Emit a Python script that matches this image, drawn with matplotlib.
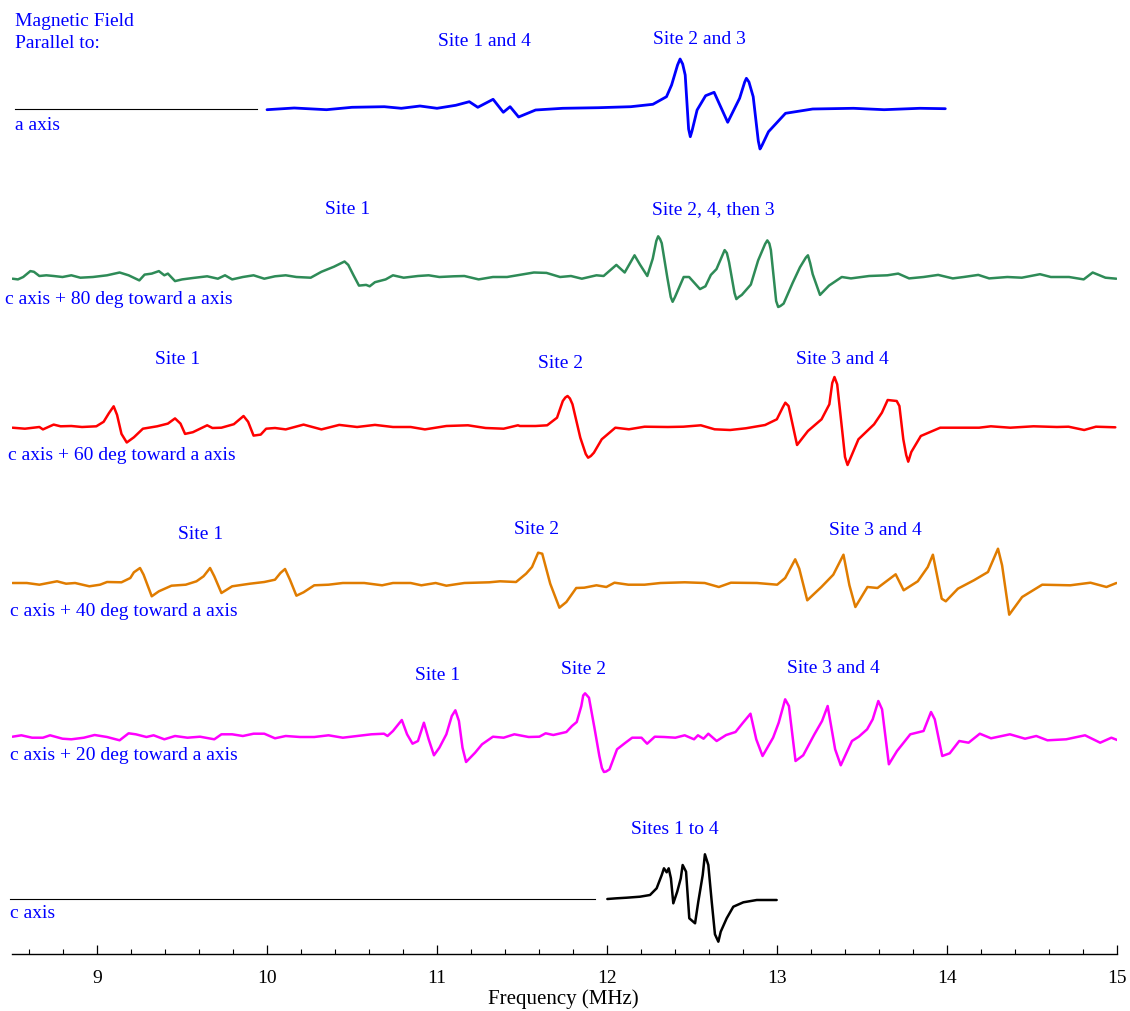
import numpy as np
import matplotlib.pyplot as plt
from matplotlib.ticker import MultipleLocator

# traces: frequency (MHz) and signal (arb. units, up = positive)
blue_f = [10.00, 10.16, 10.35, 10.50, 10.69, 10.79, 10.90, 11.00, 11.11, 11.19,
          11.24, 11.33, 11.39, 11.43, 11.48, 11.58, 11.74, 11.95, 12.14, 12.27,
          12.35, 12.38, 12.415, 12.43, 12.445, 12.46, 12.48, 12.49, 12.50, 12.53,
          12.58, 12.63, 12.71, 12.78, 12.81, 12.82, 12.835, 12.86, 12.89, 12.90,
          12.91, 12.95, 13.05, 13.21, 13.45, 13.63, 13.84, 13.99]
blue_a = [-0.7, 1, -0.7, 1.7, 2.3, 0.7, 3, 0.7, 3.7, 7.3,
          1.7, 9.7, -3.3, 2.3, -8, -1, 0.7, 1.3, 2.3, 4.7,
          12.3, 24, 44, 50, 45, 34, -20, -27.7, -22, -1,
          13.3, 16.7, -13.3, 10.7, 27, 30.7, 27, 12.3, -32, -40,
          -37, -22.7, -4.3, 0, 0.7, -0.7, 0.7, 0.3]

green_f = [8.503, 8.535, 8.566, 8.608, 8.629, 8.661, 8.702, 8.745, 8.797, 8.849,
           8.902, 8.976, 9.059, 9.133, 9.186, 9.249, 9.280, 9.322, 9.364, 9.396,
           9.417, 9.459, 9.501, 9.564, 9.648, 9.711, 9.753, 9.795, 9.858, 9.921,
           9.984, 10.047, 10.110, 10.173, 10.257, 10.320, 10.394, 10.456, 10.478, 10.509,
           10.541, 10.583, 10.604, 10.635, 10.698, 10.741, 10.804, 10.888, 10.951, 11.014,
           11.098, 11.161, 11.245, 11.329, 11.412, 11.496, 11.570, 11.644,
           11.724, 11.788, 11.852, 11.938, 11.980, 12.055, 12.104, 12.162, 12.194, 12.237,
           12.269, 12.290, 12.301, 12.312, 12.322, 12.355, 12.375, 12.386, 12.400, 12.451,
           12.483, 12.547, 12.579, 12.611, 12.644, 12.680, 12.692, 12.705, 12.718, 12.750,
           12.761, 12.775, 12.793, 12.846, 12.889, 12.930, 12.943, 12.955, 12.964, 12.995,
           13.007, 13.020, 13.039, 13.092, 13.135, 13.170, 13.182, 13.195, 13.210, 13.253,
           13.306, 13.381, 13.435, 13.542, 13.649, 13.713, 13.777, 13.862, 13.948, 14.034,
           14.098, 14.184, 14.248, 14.355, 14.440, 14.547, 14.611, 14.718, 14.804, 14.857,
           14.932, 14.996]
green_a = [-1.7, -2.4, 0, 5.9, 5.2, 1, 1.7, 1, 0, 1.7,
           -0.7, 0, 1.7, 4.5, 1.7, -3.4, 2.4, 3.4, 5.9, 1.7,
           3.4, -4.1, -2.4, -1, 0.7, -1.7, 1.7, -2.4, 0, 1.7,
           -1.7, 0.7, 1.7, 0, -0.7, 5.2, 10.3, 15.5, 12.1, 1.7,
           -8.6, -7.9, -9.3, -5.2, -2.4, 1.7, -0.7, 1, 1.7, 0,
           0.7, 1, -2.4, 0, 0, 2.4, 4.5, 4.1,
           0, 1, -1.7, 1.7, 1, 12.1, 4.5, 21.7, 12.4, 1,
           18.3, 36, 40.7, 38, 33.8, -0.7, -20, -24.8, -20, 0,
           0, -12.1, -9.3, 2.1, 7.9, 22, 26.9, 24, 14.8, -16,
           -22.1, -20, -17.9, -7.6, 16.6, 33, 36.6, 33.5, 26.9, -24,
           -30, -29, -26.6, -5.9, 9.7, 19.5, 21.7, 14, 2.8, -17.9,
           -8.6, 0, -1.4, 1, 1.7, 3.4, -1.4, 0, 2.1, -1.4,
           0, 2.1, -1.4, 0, -0.7, 2.8, 0, 0, -2.4, 4.5,
           -0.7, -1.7]

red_f = [8.503, 8.576, 8.661, 8.682, 8.745, 8.786, 8.849, 8.912, 8.996, 9.039,
         9.070, 9.098, 9.118, 9.144, 9.175, 9.217, 9.270, 9.354, 9.417, 9.459,
         9.491, 9.518, 9.564, 9.648, 9.679, 9.732, 9.805, 9.862, 9.889, 9.921,
         9.963, 9.995, 10.047, 10.110, 10.215, 10.320, 10.425, 10.530, 10.635, 10.741,
         10.845, 10.929, 11.055, 11.182, 11.286, 11.392, 11.476,
         11.488, 11.580, 11.648, 11.706, 11.740, 11.755, 11.768, 11.782, 11.797, 11.843,
         11.875, 11.889, 11.905, 11.923, 11.969, 12.049, 12.129, 12.221, 12.358, 12.449,
         12.552, 12.633, 12.724, 12.816, 12.930, 12.999, 13.035, 13.049, 13.068, 13.118,
         13.182, 13.262, 13.308, 13.325, 13.338, 13.354, 13.388, 13.400, 13.415, 13.430,
         13.479, 13.571, 13.617, 13.651, 13.704, 13.720, 13.743, 13.760, 13.772, 13.790,
         13.846, 13.960, 14.189, 14.258, 14.372, 14.509, 14.647, 14.715, 14.807, 14.876,
         14.990]
red_a = [-0.7, -1.7, 0, -2.4, 2.4, 0.7, 1, 0, 0.7, 5.2,
         13.8, 20.7, 12.1, -6.9, -15.5, -10.3, -1.7, 0.7, 3.4, 8.6,
         3.4, -6.9, -5.2, 1.7, -1, -0.7, 2.8, 11, 5.2, -8.6,
         -7.6, -1.7, -1, -2.4, 2.4, -2.4, 2.1, 0, 2.1, 0,
         0, -2.4, 1, 1.7, -1, -1.7, 1.7,
         1, 1, 1.7, 9.3, 26, 29.5, 31, 28.5, 22.7, -10.7,
         -27, -30.7, -29, -25.7, -12.3, -0.7, -2.3, 0.3, 0, 0.3,
         1.7, -2.3, -3, -1.3, 2, 7.7, 20, 24.3, 21, -18,
         -4, 7.7, 22.7, 44, 50, 42.7, -10.7, -30, -38, -32,
         -12.3, 2.7, 14.3, 27, 26, 21, -12.3, -28, -34.7, -25,
         -9, -0.7, -0.7, 0.7, -0.7, 0.7, 0, 0.3, -3, 0.3,
         -0.3]

orange_f = [8.503, 8.587, 8.661, 8.765, 8.818, 8.871, 8.955, 9.018, 9.059, 9.144,
            9.196, 9.217, 9.253, 9.274, 9.322, 9.364, 9.438, 9.522, 9.585, 9.627,
            9.665, 9.690, 9.732, 9.795, 9.900, 9.984, 10.047, 10.079, 10.106, 10.135,
            10.173, 10.215, 10.278, 10.362, 10.446, 10.572, 10.677, 10.741, 10.845, 10.908,
            10.992, 11.055, 11.161, 11.308,
            11.371, 11.465, 11.524, 11.559, 11.595, 11.619, 11.666, 11.720, 11.761, 11.819,
            11.866, 11.938, 11.996, 12.044, 12.126, 12.221, 12.315, 12.457, 12.575, 12.658,
            12.729, 12.882, 13.001, 13.048, 13.107, 13.131, 13.178, 13.261, 13.331, 13.391,
            13.426, 13.461, 13.532, 13.591, 13.698, 13.745, 13.828, 13.887, 13.917, 13.969,
            13.993, 14.064, 14.158, 14.241, 14.300, 14.324, 14.366, 14.442, 14.560, 14.725,
            14.844, 14.938, 14.997]
orange_a = [0, 0, -1.7, 1.7, -0.7, 0, -3.3, -1.7, 1, 0.7,
            5, 10.7, 15, 8.3, -13.3, -8.3, -2.7, -1.7, 1.7, 6.7,
            15, 6.7, -10, -3.3, -0.7, 1, 3.3, 10, 14, 3.3,
            -12.7, -9.3, -2.3, -1.7, 0, 0, -2.3, 0, 0, -2.3,
            0, -2.7, 0, 0.7,
            1.7, 1, 9.3, 16, 30.3, 29.3, -0.7, -24.7, -19, -5,
            -4.7, -2.3, -4, 0.3, -1.7, -1.7, 0, 0.7, 0, -4,
            0.3, 0, -1.7, 5, 23.7, 14.3, -17.3, -4, 8.3, 28.3,
            -2.3, -24, -4, -5, 8.7, -7.3, 1.7, 16, 28.3, -15.7,
            -18.3, -5.7, 2.7, 11, 34.3, 17.7, -31.7, -14, -1.7, -2.3,
            0.3, -4, 0]

magenta_f = [8.503, 8.555, 8.618, 8.682, 8.724, 8.797, 8.849, 8.923, 8.986, 9.059,
             9.133, 9.186, 9.228, 9.291, 9.333, 9.396, 9.459, 9.532, 9.606, 9.690,
             9.732, 9.795, 9.858, 9.921, 9.984, 10.047, 10.110, 10.194, 10.278, 10.362,
             10.446, 10.530, 10.614, 10.688, 10.709, 10.741, 10.793, 10.824, 10.856, 10.888,
             10.923, 10.951, 10.982, 11.014, 11.055, 11.087, 11.108, 11.129, 11.150, 11.171,
             11.224, 11.265, 11.329, 11.392, 11.455, 11.539, 11.602,
             11.639, 11.684, 11.728, 11.761, 11.794, 11.822, 11.849, 11.860, 11.871, 11.894,
             11.926, 11.955, 11.970, 11.982, 11.995, 12.015, 12.059, 12.104, 12.148, 12.203,
             12.236, 12.281, 12.336, 12.402, 12.457, 12.512, 12.535, 12.568, 12.596, 12.645,
             12.701, 12.756, 12.800, 12.844, 12.878, 12.915, 12.977, 13.010, 13.048, 13.070,
             13.109, 13.154, 13.220, 13.265, 13.298, 13.342, 13.375, 13.441, 13.481, 13.530,
             13.563, 13.596, 13.618, 13.658, 13.706, 13.784, 13.862, 13.906, 13.928, 13.972,
             14.016, 14.072, 14.127, 14.193, 14.259, 14.370, 14.459, 14.525, 14.591, 14.701,
             14.812, 14.901, 14.967, 15.001]
magenta_a = [0.3, 1.7, -0.7, -0.7, 1.7, -1.7, -2.3, -0.7, 2, 0,
             -3.3, 3.7, 2.7, 0, 1.7, -2.3, 1, -0.7, 0.3, -2.3,
             2.7, 2.7, 1, 3.3, 3.3, -1.3, 1, 0, 0, 1.7,
             -0.7, 1, 2.7, 3.3, 1, 6, 17, 2.7, -6.7, -4,
             14.3, -2.3, -18.3, -10.7, 2.7, 21, 26.7, 16, -10.7, -25,
             -15.7, -7.3, 0.3, -0.7, 2.7, 0, 0.3,
             3.7, 2, 3.7, 5, 11, 15, 31, 41.5, 43.7, 39.3,
             9.3, -19, -31, -35, -34.5, -32.3, -12.3, -6.3, -0.7, -0.7,
             -6.7, 0.3, 0, -0.7, 1.7, -2.3, 1.7, -1.7, 3.3, -4,
             2, 5, 14.3, 23.3, -2.3, -19, -0.7, 14.3, 37.7, 31,
             -24, -18.3, 2.7, 16, 31, -12.3, -28.3, -4, 0.3, 7.7,
             17.7, 36, 27.7, -27.3, -14, 2.7, 6, 25, 17.7, -19,
             -16.3, -4, -5.7, 3.3, -1.3, 2.7, -1.7, 1, -3.3, -2.3,
             1.7, -5.7, -0.7, -3]

black_f = [12.002, 12.057, 12.116, 12.194, 12.253, 12.292, 12.322, 12.335, 12.351, 12.363,
           12.376, 12.390, 12.413, 12.434, 12.445, 12.465, 12.484, 12.518, 12.537, 12.563,
           12.576, 12.596, 12.616, 12.635, 12.655, 12.669, 12.704, 12.743, 12.802, 12.881,
           12.998]
black_a = [0, 0.7, 1.3, 2.3, 4, 10.7, 24, 30.7, 26.7, 30.7,
           20.7, -4.3, 7.3, 20.7, 34, 27.3, -19.3, -24.3, -2.7, 24,
           44.7, 34, -2.7, -35.3, -42.7, -32.7, -19.3, -7.7, -3.3, -1,
           -1]

# thin reference lines in front of the a-axis and c-axis traces
ref_a_f = [8.52, 9.94]
ref_c_f = [8.49, 11.93]

W, H = 1130, 1012
AXIS_Y = 955   # pixel row of the frequency axis
BLUE = '#0000FF'

plt.rcParams['font.family'] = ['Liberation Serif', 'DejaVu Serif']

fig = plt.figure(figsize=(W / 100, H / 100), dpi=100)
ax = fig.add_axes([12 / W, (H - AXIS_Y) / H, (1117 - 12) / W, AXIS_Y / H])
ax.set_xlim(8.5, 15)
ax.set_ylim(AXIS_Y, 0)

traces = [
    (blue_f, blue_a, 110, '#0000FF', 2.0),
    (green_f, green_a, 278, '#2E8B57', 1.8),
    (red_f, red_a, 428, '#FF0000', 1.8),
    (orange_f, orange_a, 584, '#E07C00', 1.8),
    (magenta_f, magenta_a, 738, '#FF00FF', 1.8),
    (black_f, black_a, 900, '#000000', 1.8),
]
for f, a, base, col, lw in traces:
    ax.plot(f, base - np.array(a), color=col, lw=lw,
            solid_joinstyle='round', solid_capstyle='round')

ax.plot(ref_a_f, [110, 110], color='black', lw=0.8, clip_on=False)
ax.plot(ref_c_f, [900, 900], color='black', lw=0.8, clip_on=False)

for s in ['top', 'left', 'right']:
    ax.spines[s].set_visible(False)
ax.spines['bottom'].set_linewidth(1.0)
ax.set_yticks([])
ax.xaxis.set_major_locator(MultipleLocator(1))
ax.xaxis.set_minor_locator(MultipleLocator(0.2))
ax.tick_params(axis='x', which='major', direction='in', length=6.5, width=0.9,
               labelsize=14, pad=11)
ax.tick_params(axis='x', which='minor', direction='in', length=3.5, width=0.8)
ax.set_xticks(range(9, 16))
ax.patch.set_visible(False)


def label(x, y, s, ha='center', color=BLUE, size=14):
    fig.text(x / W, 1 - y / H, s, ha=ha, va='center', color=color, fontsize=size)


label(15, 21, 'Magnetic Field', ha='left')
label(15, 43, 'Parallel to:', ha='left')
label(15, 126, 'a axis', ha='left')
label(484, 41, 'Site 1 and 4')
label(699, 40, 'Site 2 and 3')
label(348, 209, 'Site 1')
label(713, 210, 'Site 2, 4, then 3')
label(5, 300, 'c axis + 80 deg toward a axis', ha='left')
label(178, 360, 'Site 1')
label(561, 364, 'Site 2')
label(842, 359, 'Site 3 and 4')
label(8, 456, 'c axis + 60 deg toward a axis', ha='left')
label(201, 535, 'Site 1')
label(537, 530, 'Site 2')
label(875, 531, 'Site 3 and 4')
label(10, 612, 'c axis + 40 deg toward a axis', ha='left')
label(438, 675, 'Site 1')
label(584, 670, 'Site 2')
label(833, 669, 'Site 3 and 4')
label(10, 756, 'c axis + 20 deg toward a axis', ha='left')
label(675, 829, 'Sites 1 to 4')
label(10, 914, 'c axis', ha='left')
label(563, 999, 'Frequency (MHz)', color='black', size=15)

fig.savefig('out.png', dpi=100)
